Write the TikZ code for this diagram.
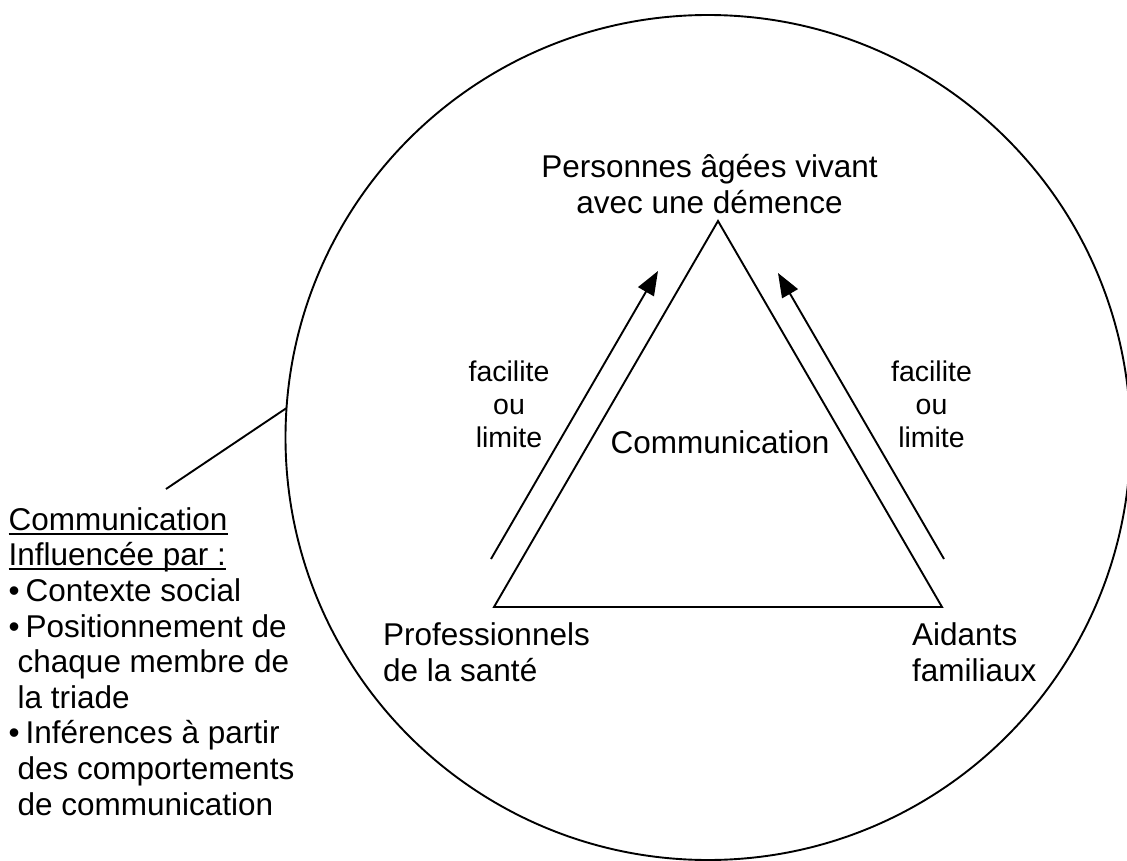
\documentclass[tikz,border=0pt]{standalone}
\usepackage{fontspec}
\setmainfont{Liberation Sans}
\usetikzlibrary{arrows.meta}
% strut that fixes the height of a first text line
\newcommand\tstrut{\rule{0pt}{27pt}}
% underline at a fixed distance below the baseline
\newcommand\undl[1]{\setbox0\hbox{#1}\rlap{\rule[-4.5pt]{\wd0}{2pt}}\box0}
\begin{document}
\begin{tikzpicture}[x=1pt,y=-1pt,
  line/.style={line width=1.9pt, line join=miter},
  lbl/.style={inner sep=0pt, font=\fontsize{31.5pt}{36.5pt}\selectfont},
  note/.style={inner sep=0pt, align=center, font=\fontsize{28.5pt}{33pt}\selectfont},
  flow/.style={line, -{Triangle[length=24pt,width=18pt]}}]
\useasboundingbox (0,0) rectangle (1127,861);
\fill[white] (0,0) rectangle (1127,861);

% surrounding circle
\node[circle, draw, line width=1.9pt, minimum size=845pt, inner sep=0pt, outer sep=0pt] (ring) at (708,437.5) {};

% the triad
\coordinate (apex) at (718,221);
\coordinate (bl) at (494,607);
\coordinate (br) at (942,607);
\draw[line] (apex) -- (bl) -- (br) -- cycle;

% influence arrows along the two sides
\coordinate (lfrom) at (491,559);
\coordinate (lto) at (658,271);
\coordinate (rfrom) at (944,559);
\coordinate (rto) at (778,273);
\draw[flow] (lfrom) -- (lto);
\draw[flow] (rfrom) -- (rto);

% labels
\node[lbl, align=center, anchor=north] (pa) at (709.5,150)
  {\tstrut Personnes âgées vivant\\avec une démence};
\node[lbl, anchor=base] (comm) at (720,453) {Communication};
\node[lbl, align=left, anchor=north west] (pro) at (383,618)
  {\tstrut Professionnels\\de la santé};
\node[lbl, align=left, anchor=north west] (aid) at (912,618)
  {\tstrut Aidants\\familiaux};
\node[note, anchor=north] (fl) at (509,354) {\tstrut facilite\\ou\\limite};
\node[note, anchor=north] (fr) at (931.5,354) {\tstrut facilite\\ou\\limite};

% influences on communication
\node[inner sep=0pt, align=left, anchor=north west,
      font=\fontsize{31.5pt}{35.6pt}\selectfont] (infl) at (8.5,503)
  {\tstrut\undl{Communication}\\
   \undl{Influencée par :}\\
   \makebox[17pt][l]{\textbullet}Contexte social\\
   \makebox[17pt][l]{\textbullet}Positionnement de\\
   \hspace*{9pt}chaque membre de\\
   \hspace*{9pt}la triade\\
   \makebox[17pt][l]{\textbullet}Inférences à partir\\
   \hspace*{9pt}des comportements\\
   \hspace*{9pt}de communication};
\coordinate (lead) at (166,489);
\draw[line] (lead) -- (ring.176.2);
\end{tikzpicture}
\end{document}
